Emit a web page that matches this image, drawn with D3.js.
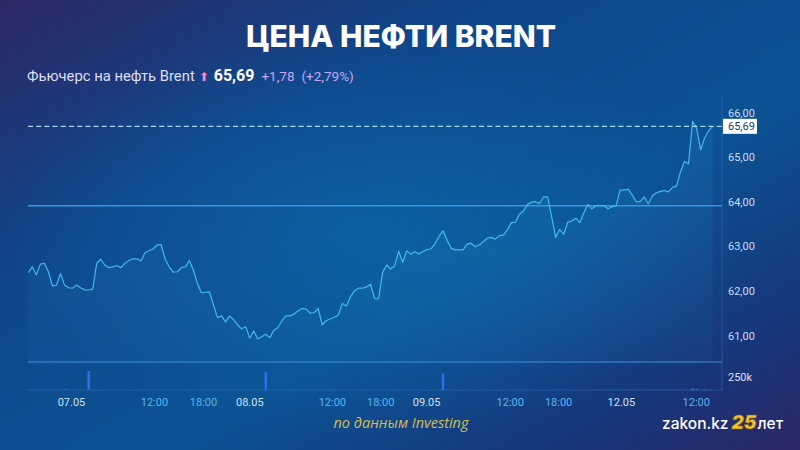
<!DOCTYPE html>
<html>
<head>
<meta charset="utf-8">
<script src="https://cdn.jsdelivr.net/npm/d3@7"></script>
<style>
  html, body { margin: 0; padding: 0; background: #0c3f80; }
  svg { display: block; }
</style>
</head>
<body>
<div id="chart"></div>
<script>
// Brent futures, 30-min closes
var prices = [
  62.41, 62.54, 62.36, 62.60, 62.62, 62.43, 62.11, 62.13, 62.39, 62.13,
  62.07, 62.06, 62.13, 62.07, 62.02, 62.02, 62.04, 62.62, 62.71, 62.58,
  62.52, 62.54, 62.57, 62.52, 62.62, 62.68, 62.72, 62.72, 62.67, 62.86,
  62.90, 62.94, 63.03, 63.04, 62.71, 62.54, 62.42, 62.43, 62.52, 62.54,
  62.68, 62.47, 62.17, 61.96, 61.97, 61.98, 61.68, 61.40, 61.44, 61.30,
  61.44, 61.35, 61.24, 61.15, 61.20, 60.94, 61.10, 60.92, 60.97, 61.03,
  60.95, 61.12, 61.18, 61.33, 61.44, 61.44, 61.48, 61.55, 61.61, 61.59,
  61.50, 61.51, 61.61, 61.24, 61.33, 61.37, 61.41, 61.46, 61.72, 61.66,
  61.86, 62.00, 62.06, 62.06, 62.09, 62.15, 61.83, 61.82, 62.41, 62.58,
  62.49, 62.56, 62.89, 62.64, 62.90, 62.82, 62.88, 62.83, 62.88, 62.93,
  62.94, 63.05, 63.22, 63.35, 63.14, 62.96, 62.92, 62.92, 62.92, 63.05,
  63.07, 62.99, 63.03, 63.10, 63.18, 63.20, 63.16, 63.24, 63.25, 63.37,
  63.53, 63.54, 63.72, 63.79, 63.94, 63.99, 64.00, 63.96, 64.11, 64.11,
  63.66, 63.20, 63.38, 63.27, 63.54, 63.57, 63.63, 63.53, 63.75, 63.94,
  63.84, 63.91, 63.91, 63.91, 63.84, 63.89, 63.91, 64.26, 64.26, 64.28,
  64.15, 64.00, 64.00, 64.11, 63.95, 64.13, 64.20, 64.23, 64.25, 64.22,
  64.32, 64.35, 64.67, 64.90, 64.85, 65.80, 65.65, 65.16, 65.43, 65.59,
  65.69
];

var lastPrice = 65.69;
var prevClose = 63.91;
var change = "+1,78";
var changePct = "(+2,79%)";

var yTicks = [61, 62, 63, 64, 65, 66];

// x tick positions are in bar units (30-min bars)
var xTickPos = [10.6, 31.2, 43.4, 54.9, 75.4, 87.4, 98.8, 119.6, 131.6, 147.2, 165.8];
var xTickLabels = ["07.05", "12:00", "18:00", "08.05", "12:00", "18:00", "09.05", "12:00", "18:00", "12.05", "12:00"];

// volume (thousands) – only the visible bars
var volIdx = [9, 15, 59, 103, 165, 166, 168];
var volK = [15, 365, 345, 320, 30, 18, 10];

var W = 800, H = 450;

var svg = d3.select("#chart").append("svg")
  .attr("width", W)
  .attr("height", H);

//background
var defs = svg.append("defs");
var bg = defs.append("linearGradient").attr("id", "bg")
  .attr("x1", "0%").attr("y1", "0%").attr("x2", "100%").attr("y2", "100%");
bg.append("stop").attr("offset", "0%").attr("stop-color", "#2d2866");
bg.append("stop").attr("offset", "30%").attr("stop-color", "#0f4689");
bg.append("stop").attr("offset", "60%").attr("stop-color", "#0b5393");
bg.append("stop").attr("offset", "85%").attr("stop-color", "#17367a");
bg.append("stop").attr("offset", "100%").attr("stop-color", "#2c2766");

var glow = defs.append("radialGradient").attr("id", "glow")
  .attr("cx", "46%").attr("cy", "52%").attr("r", "45%");
glow.append("stop").attr("offset", "0%").attr("stop-color", "#0d68a8").attr("stop-opacity", 0.7);
glow.append("stop").attr("offset", "100%").attr("stop-color", "#0d68a8").attr("stop-opacity", 0);

var area_grad = defs.append("linearGradient").attr("id", "areaGrad")
  .attr("x1", "0").attr("y1", "0").attr("x2", "0").attr("y2", "1");
area_grad.append("stop").attr("offset", "0%").attr("stop-color", "#4ab8f0").attr("stop-opacity", 0.10);
area_grad.append("stop").attr("offset", "100%").attr("stop-color", "#4ab8f0").attr("stop-opacity", 0.04);

svg.append("rect").attr("width", W).attr("height", H).attr("fill", "url(#bg)");
svg.append("rect").attr("width", W).attr("height", H).attr("fill", "url(#glow)");

// scales
var x = d3.scaleLinear().domain([0, prices.length - 1]).range([28.3, 712.7]);
var y = d3.scaleLinear().domain([61, 66]).range([335.5, 112.5]);
var vy = d3.scaleLinear().domain([0, 540]).range([390, 362]);

var plotLeft = 28, plotRight = 722, priceBottom = 362, volBottom = 390;

// title
svg.append("text")
  .attr("x", W / 2 + 1).attr("y", 47)
  .attr("text-anchor", "middle")
  .attr("font-family", "Inter, 'Open Sans', sans-serif")
  .attr("font-weight", 800)
  .attr("font-size", 30)
  .attr("fill", "#ffffff")
  .text("ЦЕНА НЕФТИ BRENT");

// subtitle line
var sub = svg.append("text")
  .attr("x", 27).attr("y", 81)
  .attr("font-family", "Roboto, sans-serif")
  .attr("font-size", 14.8);
sub.append("tspan").attr("fill", "#dcdff5").text("Фьючерс на нефть Brent");
sub.append("tspan").attr("fill", "#f08ad8").attr("dx", 4).attr("font-size", 12).text("⬆");
sub.append("tspan").attr("fill", "#ffffff").attr("dx", 5).attr("font-weight", 700).attr("font-size", 16)
  .text(d3.format(".2f")(lastPrice).replace(".", ","));
sub.append("tspan").attr("fill", "#c9a6f6").attr("dx", 7).attr("font-size", 13.5).text(change);
sub.append("tspan").attr("fill", "#c9a6f6").attr("dx", 7).attr("font-size", 13.5).text(changePct);

var g = svg.append("g");

// area + price line
var area = d3.area()
  .x(function (d, i) { return x(i); })
  .y0(priceBottom)
  .y1(function (d) { return y(d); });
g.append("path").datum(prices)
  .attr("d", area)
  .attr("fill", "url(#areaGrad)");

// prev close line
g.append("line")
  .attr("x1", plotLeft).attr("x2", plotRight)
  .attr("y1", y(prevClose)).attr("y2", y(prevClose))
  .attr("stroke", "#3597dc").attr("stroke-width", 1.6);

var line = d3.line()
  .x(function (d, i) { return x(i); })
  .y(function (d) { return y(d); });
g.append("path").datum(prices)
  .attr("d", line)
  .attr("fill", "none")
  .attr("stroke", "#45b9e8")
  .attr("stroke-width", 1.2)
  .attr("stroke-linejoin", "round");

// last price dashed line
g.append("line")
  .attr("x1", plotLeft).attr("x2", plotRight)
  .attr("y1", y(lastPrice)).attr("y2", y(lastPrice))
  .attr("stroke", "#a6d6f2").attr("stroke-width", 1.3)
  .attr("stroke-dasharray", "5,3.2");

// separators
g.append("line")
  .attr("x1", plotLeft).attr("x2", plotRight)
  .attr("y1", priceBottom).attr("y2", priceBottom)
  .attr("stroke", "#3f8fd6").attr("stroke-width", 1.2);
g.append("line")
  .attr("x1", plotLeft).attr("x2", plotRight)
  .attr("y1", volBottom).attr("y2", volBottom)
  .attr("stroke", "#2e6fb4").attr("stroke-opacity", 0.6).attr("stroke-width", 1);
g.append("line")
  .attr("x1", plotRight).attr("x2", plotRight)
  .attr("y1", 96).attr("y2", volBottom)
  .attr("stroke", "#3f7fc4").attr("stroke-opacity", 0.45).attr("stroke-width", 1);

// volume bars
g.selectAll(".vol")
  .data(volIdx)
  .enter().append("rect")
  .attr("class", "vol")
  .attr("x", function (d) { return x(d) - 1.2; })
  .attr("width", 2.4)
  .attr("y", function (d, i) { return vy(volK[i]); })
  .attr("height", function (d, i) { return volBottom - vy(volK[i]); })
  .attr("fill", "#2d6ff0");

// y axis
var y_axis = d3.axisRight(y)
  .tickValues(yTicks)
  .tickSize(0)
  .tickPadding(6)
  .tickFormat(function (d) { return d3.format(".2f")(d).replace(".", ","); });
var yAx = svg.append("g")
  .attr("transform", "translate(" + plotRight + ",0)")
  .call(y_axis);
yAx.select(".domain").remove();
yAx.selectAll("text")
  .attr("font-family", "Roboto, sans-serif")
  .attr("font-size", 11)
  .attr("fill", "#cadcf2");

// volume axis label
var v_axis = d3.axisRight(vy)
  .tickValues([250])
  .tickSize(0)
  .tickPadding(6)
  .tickFormat(function (d) { return d + "k"; });
var vAx = svg.append("g")
  .attr("transform", "translate(" + plotRight + ",0)")
  .call(v_axis);
vAx.select(".domain").remove();
vAx.selectAll("text")
  .attr("font-family", "Roboto, sans-serif")
  .attr("font-size", 11)
  .attr("fill", "#d8e2f5");

// last price label box
var lp = svg.append("g").attr("transform", "translate(" + (plotRight + 1) + "," + y(lastPrice) + ")");
lp.append("rect")
  .attr("x", 0).attr("y", -7.5)
  .attr("width", 34).attr("height", 15)
  .attr("fill", "#ffffff");
lp.append("text")
  .attr("x", 5).attr("dy", "0.35em")
  .attr("font-family", "Roboto, sans-serif")
  .attr("font-size", 11)
  .attr("fill", "#173a6e")
  .text(d3.format(".2f")(lastPrice).replace(".", ","));

// x axis
var x_axis = d3.axisBottom(x)
  .tickValues(xTickPos)
  .tickSize(0)
  .tickPadding(8)
  .tickFormat(function (d, i) { return xTickLabels[i]; });
var xAx = svg.append("g")
  .attr("transform", "translate(0," + volBottom + ")")
  .call(x_axis);
xAx.select(".domain").remove();
xAx.selectAll("text")
  .attr("font-family", "Roboto, sans-serif")
  .attr("font-size", 11)
  .attr("fill", function (d, i) { return xTickLabels[i].indexOf(":") > 0 ? "#56b6ee" : "#cfe0f3"; });

// source
svg.append("text")
  .attr("x", 401).attr("y", 428)
  .attr("text-anchor", "middle")
  .attr("font-family", "'Open Sans', sans-serif")
  .attr("font-style", "italic")
  .attr("font-size", 14.5)
  .attr("fill", "#d4bd55")
  .text("по данным Investing");

// logo
var logo = svg.append("text")
  .attr("x", 662).attr("y", 429)
  .attr("font-family", "Inter, sans-serif")
  .attr("font-size", 15.5);
logo.append("tspan").attr("fill", "#ffffff").attr("font-weight", 500).text("zakon.kz");
logo.append("tspan").attr("dx", 3).attr("fill", "#f2c230").attr("font-weight", 900)
  .attr("font-size", 19).attr("font-style", "italic").attr("stroke", "#8a6510").attr("stroke-width", 0.6).text("25");
logo.append("tspan").attr("dx", 1).attr("fill", "#ffffff").attr("font-weight", 500).text("лет");
</script>
</body>
</html>
